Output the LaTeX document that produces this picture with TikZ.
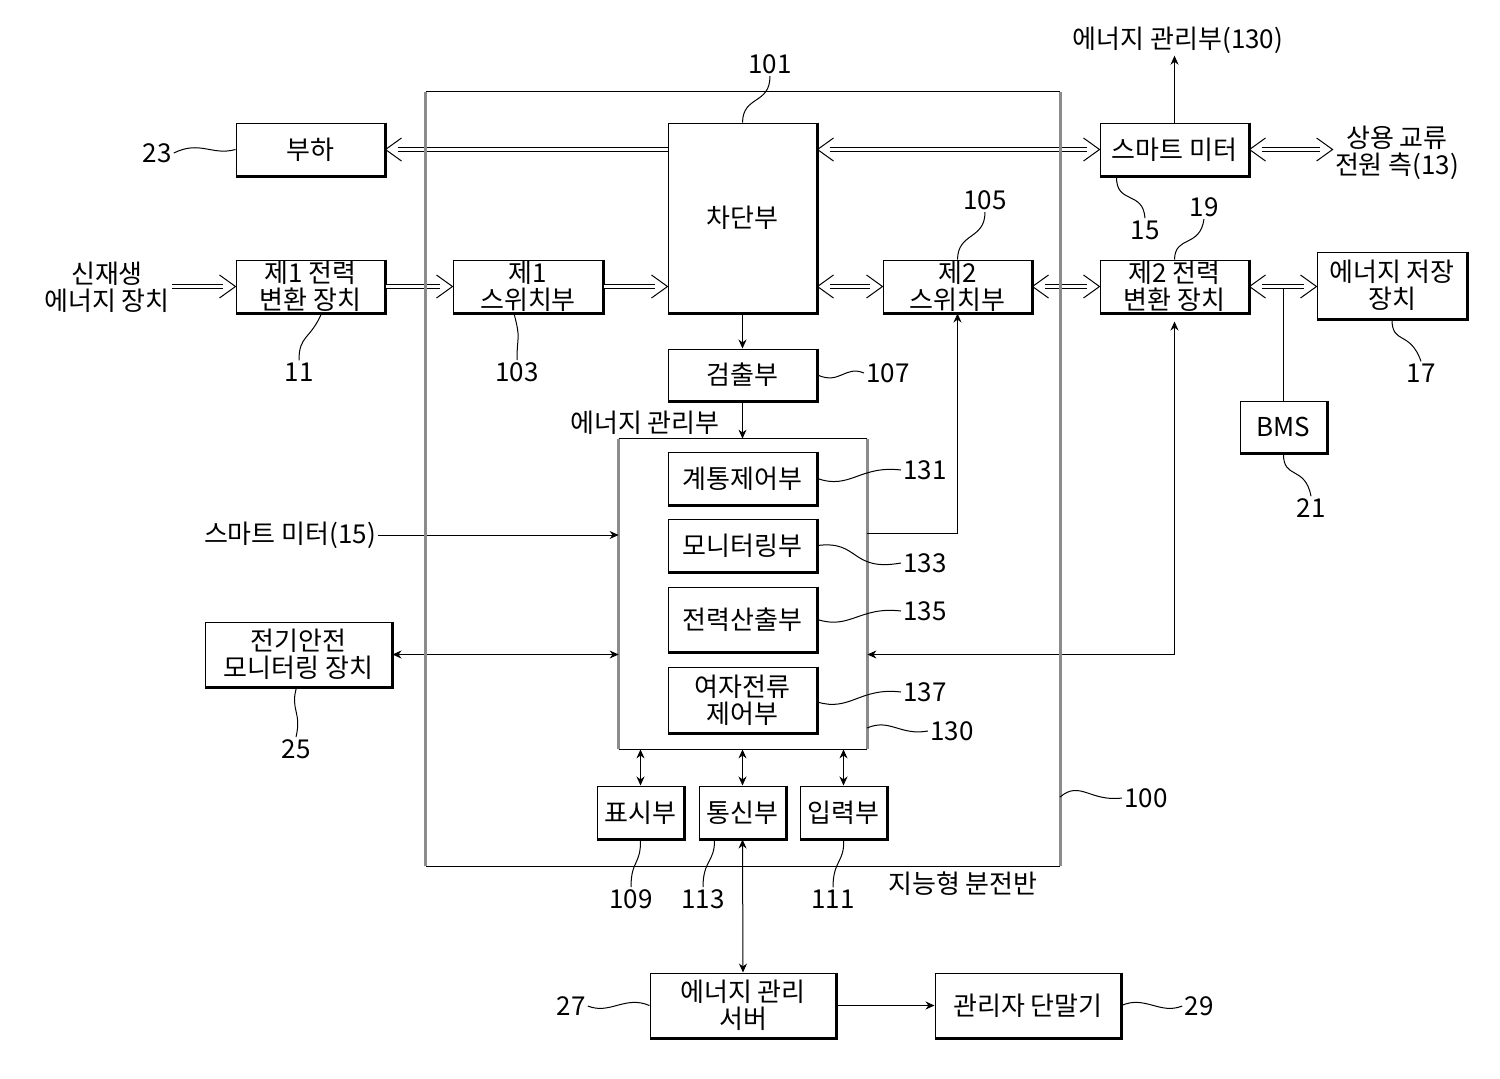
\documentclass[tikz,border=0pt]{standalone}
\usepackage{fontspec}
\setmainfont{Noto Sans CJK KR}
\usetikzlibrary{arrows.meta,fit}
\newcommand\bx[4]{\node[box, fit={#2 #3}] (#1) {};\node[boxtext] (#1-t) at (#1.center) {#4};\draw[edge] (#1.north east) -- (#1.south east) -- (#1.south west);}
\begin{document}
\begin{tikzpicture}[x=0.5pt,y=-0.5pt,
  font=\fontsize{13}{13.5}\selectfont,
  box/.style={draw, line width=0.5pt, inner sep=0pt, fill=white},
  boxtext/.style={inner sep=0pt, align=center},
  edge/.style={line width=1.4pt},
  txt/.style={inner sep=1pt, align=center},
  num/.style={inner sep=1pt},
  lead/.style={line width=0.5pt},
  arr/.style={line width=0.5pt, -{Stealth[length=4.5pt,width=4pt]}},
  arrb/.style={line width=0.5pt, {Stealth[length=4.5pt,width=4pt]}-{Stealth[length=4.5pt,width=4pt]}},
  dline/.style={double, double distance=1.8pt, line width=0.5pt},
  dbl/.style={dline, shorten >=6.4pt},
  dblb/.style={dline, shorten >=6.4pt, shorten <=6.4pt},
  chevR/.pic={\draw[line width=0.5pt, line join=miter] (-16,-11.5) -- (0,0) -- (-16,11.5);},
  chevL/.pic={\draw[line width=0.5pt, line join=miter] (16,-11.5) -- (0,0) -- (16,11.5);},
  grayline/.style={draw=black!45, line width=1.2pt}]
\useasboundingbox (0,0) rectangle (1500,1078);

% boxes
\bx{load}{(236,123)}{(385,176)}{부하}
\bx{pc1}{(236,260)}{(385,313)}{제1 전력\\변환 장치}
\bx{sw1}{(453,260)}{(603,313)}{제1\\스위치부}
\bx{cb}{(668,123)}{(817,313)}{차단부}
\bx{sw2}{(883,260)}{(1032,313)}{제2\\스위치부}
\bx{sm}{(1100,123)}{(1249,176)}{스마트 미터}
\bx{pc2}{(1100,260)}{(1249,313)}{제2 전력\\변환 장치}
\bx{ess}{(1317,252)}{(1467,319)}{에너지 저장\\장치}
\bx{bms}{(1240,401)}{(1327,453)}{BMS}
\bx{det}{(668,349)}{(817,401)}{검출부}

% energy management unit box
\node[fit={(619,439) (867,749)}, inner sep=0pt] (ems) {};
\draw[grayline] (ems.north west) -- (ems.south west);
\draw[grayline] (ems.north east) -- (ems.south east);
\draw[line width=0.6pt] (ems.north west) -- (ems.north east);
\draw[line width=0.6pt] (ems.south west) -- (ems.south east);

\bx{sys}{(668,452)}{(817,505)}{계통제어부}
\bx{mon}{(668,519)}{(817,572)}{모니터링부}
\bx{pwr}{(668,587)}{(817,652)}{전력산출부}
\bx{exc}{(668,667)}{(817,733)}{여자전류\\제어부}
\bx{disp}{(597,786)}{(684,839)}{표시부}
\bx{comm}{(699,786)}{(786,839)}{통신부}
\bx{inp}{(800,786)}{(887,839)}{입력부}
\bx{esm}{(205,622)}{(392,687)}{전기안전\\모니터링 장치}
\bx{srv}{(650,973)}{(836,1038)}{에너지 관리\\서버}
\bx{term}{(935,973)}{(1121,1038)}{관리자 단말기}

% free texts
\node[txt] (renew) at (107,287) {신재생\\에너지 장치};
\node[txt] (ac) at (1397,153) {상용 교류\\전원 측(13)};
\node[txt] (top130) at (1178,40) {에너지 관리부(130)};
\node[txt] (emslbl) at (645,423) {에너지 관리부};
\node[txt] (sm15) at (290,535) {스마트 미터(15)};
\node[txt] (panellbl) at (963,884) {지능형 분전반};

% reference numerals
\node[num] (l101) at (770,64) {101};
\node[num] (l23) at (157,153) {23};
\node[num] (l11) at (299,372) {11};
\node[num] (l103) at (517,372) {103};
\node[num] (l105) at (985,200) {105};
\node[num] (l107) at (888,373) {107};
\node[num] (l131) at (925,470) {131};
\node[num] (l133) at (925,563) {133};
\node[num] (l135) at (925,611) {135};
\node[num] (l137) at (925,692) {137};
\node[num] (l130) at (952,731) {130};
\node[num] (l100) at (1146,798) {100};
\node[num] (l109) at (631,899) {109};
\node[num] (l113) at (703,899) {113};
\node[num] (l111) at (833,899) {111};
\node[num] (l27) at (571,1006) {27};
\node[num] (l29) at (1199,1006) {29};
\node[num] (l15) at (1145,230) {15};
\node[num] (l19) at (1204,207) {19};
\node[num] (l17) at (1421,373) {17};
\node[num] (l21) at (1311,508) {21};
\node[num] (l25) at (296,749) {25};

% double (power) arrows with hollow heads
\draw[dbl] (cb.west |- load.east) -- (load.east);
\path (load.east) pic {chevL};
\draw[dblb] (cb.east |- sm.west) -- (sm.west);
\path (cb.east |- sm.west) pic {chevL} (sm.west) pic {chevR};
\draw[dblb] (sm.east) -- (sm.east -| ac.west);
\path (sm.east) pic {chevL} (sm.east -| ac.west) pic {chevR};
\draw[dbl] (renew.east |- pc1.west) -- (pc1.west);
\path (pc1.west) pic {chevR};
\draw[dbl] (pc1.east) -- (sw1.west);
\path (sw1.west) pic {chevR};
\draw[dbl] (sw1.east) -- (sw1.east -| cb.west);
\path (sw1.east -| cb.west) pic {chevR};
\draw[dblb] (cb.east |- sw2.west) -- (sw2.west);
\path (cb.east |- sw2.west) pic {chevL} (sw2.west) pic {chevR};
\draw[dblb] (sw2.east) -- (pc2.west);
\path (sw2.east) pic {chevL} (pc2.west) pic {chevR};
\draw[dblb] (pc2.east) -- (pc2.east -| ess.west);
\path (pc2.east) pic {chevL} (pc2.east -| ess.west) pic {chevR};

% signal connectors
\coordinate (y533) at (0,533);
\draw[arr] (sm.north) -- (sm.north |- top130.south);
\draw[arr] (cb.south) -- (det.north);
\draw[arr] (det.south) -- (det.south |- ems.north);
\draw[arr] (sm15.east) -- (sm15.east -| ems.west);
\draw[arrb] (esm.east) -- (esm.east -| ems.west);
\draw[arr] (ems.east |- y533) -| (sw2.south);
\draw[arrb] (ems.east |- esm.east) -| ([yshift=-4pt]pc2.south);
\draw[line width=0.5pt] (bms.north) -- ([yshift=-1.15pt]bms.north |- pc2.east);
\draw[arrb] (disp.north |- ems.south) -- (disp.north);
\draw[arrb] (comm.north |- ems.south) -- (comm.north);
\draw[arrb] (inp.north |- ems.south) -- (inp.north);
\draw[arrb] (comm.south) -- (srv.north);
\draw[arr] (srv.east) -- (term.west);

% panel 100
\node[fit={(426,92) (1060,866)}, inner sep=0pt] (panel) {};
\draw[grayline] (panel.north west) -- (panel.south west);
\draw[grayline] (panel.north east) -- (panel.south east);
\draw[line width=0.6pt] (panel.north west) -- (panel.north east);
\draw[line width=0.6pt] (panel.south west) -- (panel.south east);

% leader lines
\draw[lead] (l101.south) .. controls (770,105) and (743,95) .. (cb.north);
\draw[lead] (l23.east) .. controls (200,140) and (212,156) .. (load.west);
\draw[lead] ([xshift=5.5pt]pc1.south) .. controls (310,340) and (299,335) .. (l11.north);
\draw[lead] ([xshift=-7pt]sw1.south) .. controls (521,340) and (517,335) .. (l103.north);
\draw[lead] (sw2.north) .. controls (958,232) and (985,240) .. (l105.south);
\draw[lead] (det.east) .. controls (840,385) and (845,365) .. (l107.west);
\draw[lead] (sys.east) .. controls (850,490) and (860,465) .. (l131.west);
\draw[lead] (mon.east) .. controls (860,540) and (850,572) .. (l133.west);
\draw[lead] (pwr.east) .. controls (850,630) and (860,606) .. (l135.west);
\draw[lead] ([yshift=-1pt]exc.east) .. controls (850,712) and (860,687) .. (l137.west);
\coordinate (c130) at (867,728);
\draw[lead] (c130) .. controls (890,718) and (900,736) .. (l130.west);
\coordinate (c100) at (1060,797);
\draw[lead] (c100) .. controls (1080,780) and (1090,802) .. (l100.west);
\draw[lead] (disp.south) .. controls (641,865) and (631,860) .. (l109.north);
\draw[lead] ([xshift=-14pt]comm.south) .. controls (715,862) and (703,860) .. (l113.north);
\draw[lead] (inp.south) .. controls (845,862) and (833,860) .. (l111.north);
\draw[lead] ([xshift=-29pt]sm.south) .. controls (1116,205) and (1143,190) .. (l15.north);
\draw[lead] (pc2.north) .. controls (1175,235) and (1200,248) .. (l19.south);
\draw[lead] (ess.south) .. controls (1392,345) and (1410,330) .. (l17.north);
\draw[lead] (bms.south) .. controls (1283,480) and (1305,465) .. (l21.north);
\draw[lead] ([xshift=-1pt]esm.south) .. controls (290,710) and (302,712) .. (l25.north);
\draw[lead] (l27.east) .. controls (610,1015) and (625,995) .. (srv.west);
\draw[lead] (term.east) .. controls (1145,995) and (1160,1015) .. (l29.west);
\end{tikzpicture}
\end{document}
